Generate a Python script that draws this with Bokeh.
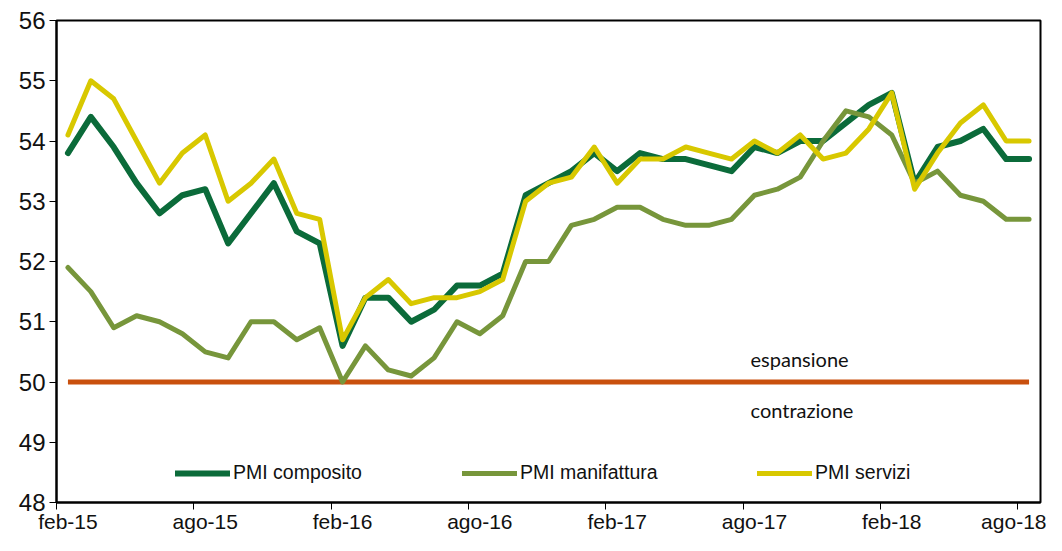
from bokeh.plotting import figure
from bokeh.models import Range1d, FixedTicker, Legend, LegendItem, Label
from bokeh.embed import file_html
from bokeh.resources import INLINE

months = [
    "feb-15", "mar-15", "apr-15", "mag-15", "giu-15", "lug-15", "ago-15", "set-15", "ott-15", "nov-15", "dic-15", "gen-16",
    "feb-16", "mar-16", "apr-16", "mag-16", "giu-16", "lug-16", "ago-16", "set-16", "ott-16", "nov-16", "dic-16", "gen-17",
    "feb-17", "mar-17", "apr-17", "mag-17", "giu-17", "lug-17", "ago-17", "set-17", "ott-17", "nov-17", "dic-17", "gen-18",
    "feb-18", "mar-18", "apr-18", "mag-18", "giu-18", "lug-18", "ago-18",
]

pmi_composito = [
    53.8, 54.4, 53.9, 53.3, 52.8, 53.1, 53.2, 52.3, 52.8, 53.3, 52.5, 52.3,
    50.6, 51.4, 51.4, 51.0, 51.2, 51.6, 51.6, 51.8, 53.1, 53.3, 53.5, 53.8,
    53.5, 53.8, 53.7, 53.7, 53.6, 53.5, 53.9, 53.8, 54.0, 54.0, 54.3, 54.6,
    54.8, 53.3, 53.9, 54.0, 54.2, 53.7, 53.7,
]
pmi_manifattura = [
    51.9, 51.5, 50.9, 51.1, 51.0, 50.8, 50.5, 50.4, 51.0, 51.0, 50.7, 50.9,
    50.0, 50.6, 50.2, 50.1, 50.4, 51.0, 50.8, 51.1, 52.0, 52.0, 52.6, 52.7,
    52.9, 52.9, 52.7, 52.6, 52.6, 52.7, 53.1, 53.2, 53.4, 54.0, 54.5, 54.4,
    54.1, 53.3, 53.5, 53.1, 53.0, 52.7, 52.7,
]
pmi_servizi = [
    54.1, 55.0, 54.7, 54.0, 53.3, 53.8, 54.1, 53.0, 53.3, 53.7, 52.8, 52.7,
    50.7, 51.4, 51.7, 51.3, 51.4, 51.4, 51.5, 51.7, 53.0, 53.3, 53.4, 53.9,
    53.3, 53.7, 53.7, 53.9, 53.8, 53.7, 54.0, 53.8, 54.1, 53.7, 53.8, 54.2,
    54.8, 53.2, 53.8, 54.3, 54.6, 54.0, 54.0,
]
soglia = [50.0] * len(months)
y_ticks = [48, 49, 50, 51, 52, 53, 54, 55, 56]

x = list(range(len(months)))
tick_idx = [i for i, m in enumerate(months) if m.startswith(("feb", "ago"))]

p = figure(width=1046, height=535, output_backend="svg", toolbar_location=None,
           x_range=Range1d(-0.5, len(months) - 0.5), y_range=Range1d(48, 56),
           min_border_left=56, min_border_right=6, min_border_top=20, min_border_bottom=29)
p.grid.visible = False
p.outline_line_color = "black"
p.outline_line_width = 2
p.background_fill_color = "white"
p.border_fill_color = "white"

TICK_FONT = "Liberation Sans"

xa = p.xaxis[0]
xa.ticker = FixedTicker(ticks=tick_idx, minor_ticks=[i - 0.5 for i in tick_idx])
xa.major_label_overrides = {i: months[i] for i in tick_idx}
xa.major_tick_out = 0
xa.major_tick_in = 0
xa.minor_tick_out = 7
xa.minor_tick_in = 0
xa.minor_tick_line_color = "black"
xa.minor_tick_line_width = 1
xa.axis_line_width = 2
xa.axis_line_color = "black"
xa.major_label_standoff = 0
xa.major_label_text_font = TICK_FONT
xa.major_label_text_font_size = "21px"
xa.major_label_text_color = "#111111"

ya = p.yaxis[0]
ya.ticker = FixedTicker(ticks=y_ticks)
ya.major_tick_out = 7
ya.major_tick_in = 0
ya.major_tick_line_color = "black"
ya.minor_tick_out = 0
ya.minor_tick_in = 0
ya.axis_line_width = 2
ya.axis_line_color = "black"
ya.major_label_standoff = 4
ya.major_label_text_font = TICK_FONT
ya.major_label_text_font_size = "24px"
ya.major_label_text_color = "#111111"

p.line(x, soglia, line_color="#C9500E", line_width=5)
r_c = p.line(x, pmi_composito, line_color="#0B6B3A", line_width=6, line_join="round", line_cap="round")
r_m = p.line(x, pmi_manifattura, line_color="#77963B", line_width=5, line_join="round", line_cap="round")
r_s = p.line(x, pmi_servizi, line_color="#D8C800", line_width=5, line_join="round", line_cap="round")

for label, rend, loc in [("PMI composito", r_c, (119, 18)),
                         ("PMI manifattura", r_m, (406, 18)),
                         ("PMI servizi", r_s, (701, 18))]:
    leg = Legend(items=[LegendItem(label=label, renderers=[rend])], location=loc,
                 orientation="horizontal", glyph_width=55, glyph_height=20, label_height=20,
                 label_standoff=3, padding=0, margin=0, spacing=0,
                 border_line_alpha=0, background_fill_alpha=0,
                 label_text_font=TICK_FONT, label_text_font_size="19.5px", label_text_color="#111111")
    p.add_layout(leg)

p.add_layout(Label(x=29.83, y=50.39, text="espansione", text_font="Lato", text_font_size="20px",
                   text_baseline="middle", text_align="left", text_color="#111111"))
p.add_layout(Label(x=29.83, y=49.53, text="contrazione", text_font="Lato", text_font_size="20px",
                   text_baseline="middle", text_align="left", text_color="#111111"))

open("out.html", "w").write(file_html(p, INLINE))
